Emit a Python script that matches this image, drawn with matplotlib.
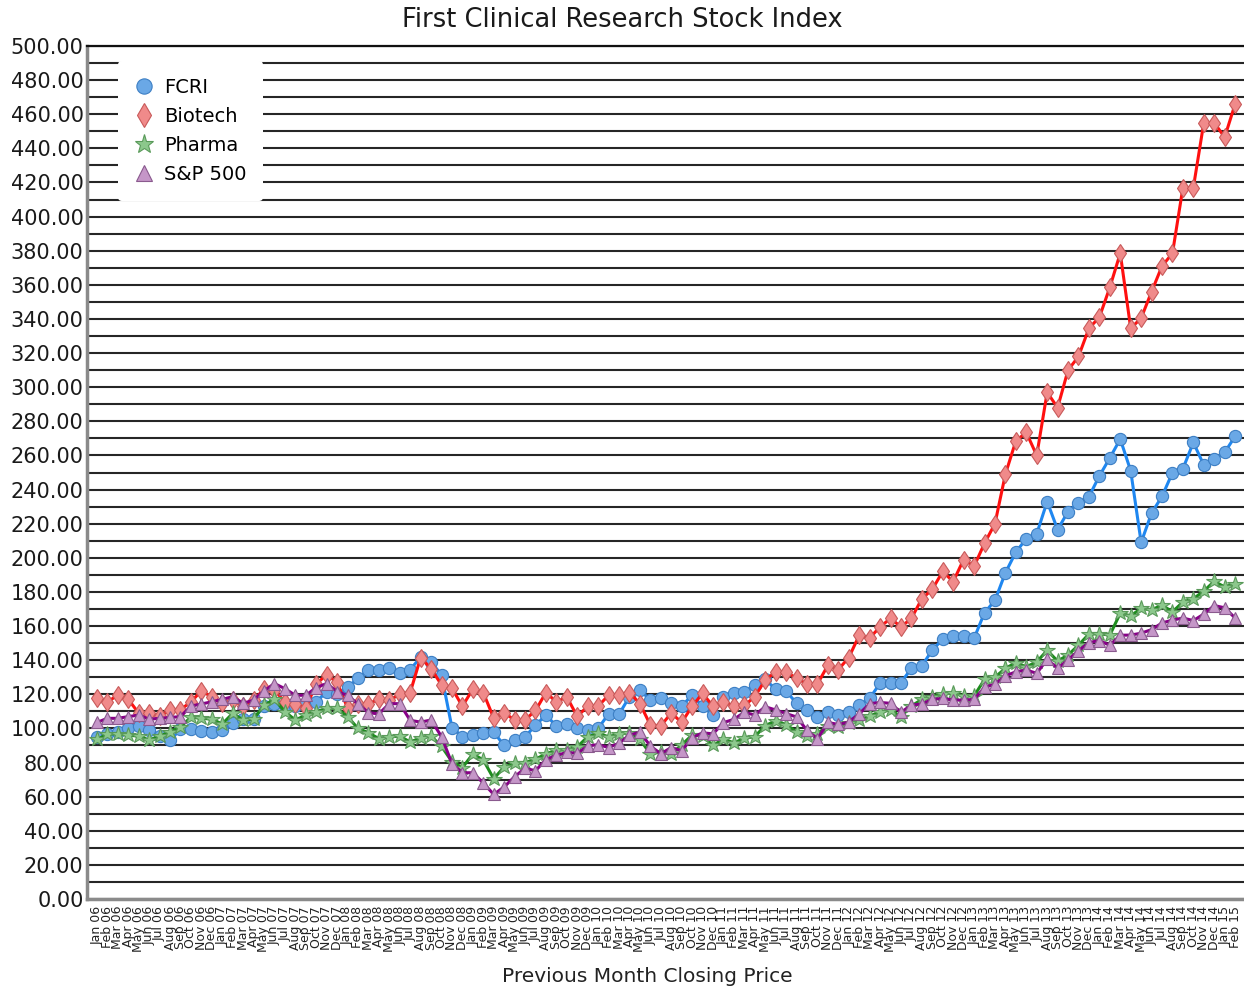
import matplotlib
matplotlib.use("Agg")
import matplotlib.pyplot as plt
import numpy as np

# ---------------- data ----------------
month_names = ["Jan", "Feb", "Mar", "Apr", "May", "Jun",
               "Jul", "Aug", "Sep", "Oct", "Nov", "Dec"]
years = ["06", "07", "08", "09", "10", "11", "12", "13", "14", "15"]
labels = [f"{m} {y}" for y in years for m in month_names][:110]

fcri = [95, 97, 98, 100.5, 101.5, 99, 95.5, 93, 99.5, 99.5, 98.3, 98,
        99.3, 103, 105.5, 105.5, 113, 114.5, 113, 113, 114.7, 115.6, 121.5, 120.2,
        124, 129.4, 134.2, 134, 135.2, 132.3, 134.5, 141.7, 139, 131.3, 100.5, 95.2,
        96.2, 97.2, 97.8, 90, 93, 95, 101.9, 107.8, 101.4, 102.5, 100.3, 99,
        100, 108.5, 108.3, 118.6, 122.5, 116.6, 117.8, 115, 112.9, 119.6, 112.9, 107.8,
        118.6, 121, 121.5, 125.4, 128.7, 122.9, 121.8, 114.8, 110.8, 106.6, 109.8, 107.9,
        109.8, 113.7, 117.6, 126.5, 126.8, 126.8, 135.2, 136.6, 146, 152.2, 154.2, 154.2,
        152.8, 167.8, 175, 191.2, 203.3, 211.2, 214, 233, 216.5, 227.1, 232.3, 235.8,
        248, 258.5, 269.6, 251, 209, 226.2, 236, 249.9, 252.2, 267.6, 254.4, 257.9,
        261.8, 271.2]

biotech = [118, 115.5, 119.5, 117, 109, 109, 107, 111, 111, 115.5, 122, 118.5,
           115, 116.5, 113, 116.5, 123, 122.5, 115.5, 114.5, 112, 126, 131.5, 127,
           112, 114.5, 114.5, 117, 116.5, 120, 121, 141.5, 135, 125.5, 123.5, 113,
           123, 121, 106, 109, 105, 105, 110.5, 121, 115.5, 118.5, 107, 113,
           113, 119.5, 119.5, 121, 114.5, 102, 101.5, 109, 103.5, 113, 120.5, 113,
           115.5, 113, 113.5, 118.5, 128.5, 133, 133, 129.5, 126, 126, 137, 134.5,
           141.5, 154.5, 153, 159.5, 164.5, 159.5, 164.5, 176, 181.5, 192, 186, 199,
           195, 208.5, 220, 249, 268.5, 273.5, 260, 297, 288, 310, 318, 334.5,
           341, 358.5, 378.5, 334.5, 340.5, 356, 371, 378.5, 417, 417, 455, 455,
           446.5, 466]

pharma = [93.5, 96.5, 97, 96, 95.5, 93.2, 95.5, 98, 101, 106.5, 106, 105.4,
          102.6, 108.8, 104.9, 105.4, 113.7, 117, 109.8, 104.9, 107.8, 109.8, 111.8, 111.8,
          106.9, 100, 97.5, 94, 95, 95.5, 92, 94.5, 95.5, 89.5, 80.5, 77,
          85, 81.5, 70.5, 77.4, 79.5, 80, 82, 85, 87.3, 87.3, 89.2, 95.1,
          97.1, 95.1, 96.7, 97.5, 93.6, 85, 86.4, 85, 90.3, 96.1, 95.5, 90,
          93.8, 91.5, 94.2, 95.2, 101.6, 104.5, 102.2, 98, 95.8, 97, 101.4, 100.6,
          103.4, 104.9, 107.2, 109.8, 110.8, 106.9, 113.1, 117, 118.6, 120.2, 120.9, 119,
          119, 128.7, 130, 135.2, 138.5, 136.1, 139, 145.7, 139.5, 143, 148.8, 155.3,
          155.5, 154.7, 167.5, 166, 170.3, 169.5, 172.3, 168.3, 174.1, 176, 180.5, 186.2,
          182.9, 184.9]

sp500 = [103.5, 105.9, 105.9, 106.9, 107.8, 105.4, 105.9, 106.4, 106.9, 113.1, 114.3, 115.6,
         117, 118.6, 114.7, 116.6, 122, 126.3, 123.3, 119.4, 119.4, 123.9, 126.3, 121.5,
         119.4, 114.3, 109.2, 108.5, 114.5, 114.5, 104.7, 103.7, 104.9, 95.2, 79.4, 74,
         74, 68, 61.3, 65.7, 71.7, 76.6, 75.2, 81.7, 84.2, 85.9, 85.4, 89.7,
         90.5, 88.8, 91.3, 96.1, 97.8, 89.7, 85.1, 88.8, 86.9, 94.6, 97.4, 96.8,
         103.4, 105.3, 109.5, 107.8, 112.7, 110.8, 108.7, 106.7, 98.9, 93.9, 103.5, 102.3,
         103.7, 108.5, 114.5, 115.2, 114.7, 109.4, 113.7, 114.3, 117, 117.6, 116.6, 116.6,
         117, 124, 126, 130.7, 133.2, 134.2, 132.3, 140.5, 135.2, 140.1, 145.5, 150.3,
         151.5, 148.7, 154.6, 154.7, 155.8, 157.9, 161.8, 163.5, 164.7, 163.2, 167, 172,
         170.7, 164.7]

series_names = ["FCRI", "Biotech", "Pharma", "S&P 500"]

# ---------------- figure ----------------
W, H = 1244, 989
fig = plt.figure(figsize=(W / 100, H / 100), dpi=100)
ax = fig.add_axes([87 / W, 1 - 899 / H, (1244 - 87) / W, (899 - 46) / H])

x = np.arange(len(labels))

styles = [
    dict(color="#1f87f0", marker="o", ms=8.8, mfc="#6aa8e6", mec="#3d7fc4"),
    dict(color="#ff1010", marker="d", ms=9.5, mfc="#f08a8a", mec="#c85a5a"),
    dict(color="#1e8c1e", marker="*", ms=11.5, mfc="#8cc88c", mec="#5a9a5a"),
    dict(color="#880088", marker="^", ms=9, mfc="#c596c8", mec="#8a5a8e"),
]
data = [fcri, biotech, pharma, sp500]
for k, (vals, st, name) in enumerate(zip(data, styles, series_names)):
    ax.plot(x, vals, color=st["color"], lw=2.2, marker=st["marker"],
            markersize=st["ms"], markerfacecolor=st["mfc"],
            markeredgecolor=st["mec"], markeredgewidth=0.8,
            label=name, zorder=3 + k)

ax.set_xlim(-0.95, 109.85)
ax.set_ylim(0, 500)

# grid lines every 10
yt = np.arange(0, 501, 20)
ax.set_yticks(yt)
ax.set_yticklabels([f"{v:.2f}" for v in yt], fontsize=15, color="#1a1a1a")
ax.set_yticks(np.arange(0, 501, 10), minor=True)
ax.yaxis.grid(True, which="both", color="#262626", lw=1.5, zorder=1)
ax.tick_params(axis="y", which="both", length=0, pad=2.5)

ax.set_xticks(x)
ax.set_xticklabels(labels, rotation=90, fontsize=9, color="#222222")
ax.tick_params(axis="x", length=0, pad=5)

ax.spines["right"].set_visible(False)
ax.spines["top"].set_color("#111111")
ax.spines["top"].set_linewidth(1.6)
ax.spines["left"].set_color("#8a8a8a")
ax.spines["left"].set_linewidth(2.5)
ax.spines["bottom"].set_color("#8a8a8a")
ax.spines["bottom"].set_linewidth(2.5)

leg = ax.legend(loc="upper left", bbox_to_anchor=(0.027, 0.982), frameon=True,
                fontsize=14, handlelength=0.9, handletextpad=0.6,
                labelspacing=0.52, borderpad=0.85, borderaxespad=0,
                markerscale=1.25)
leg.get_frame().set_edgecolor("none")
leg.get_frame().set_facecolor("white")
leg.get_frame().set_alpha(1)
leg.set_zorder(20)
for h in leg.legend_handles:
    h.set_linestyle("none")

fig.text(0.5, 1 - 20 / H, "First Clinical Research Stock Index",
         ha="center", va="center", fontsize=18.5, color="#1a1a1a")
fig.text(647.5 / W, 1 - 976 / H, "Previous Month Closing Price",
         ha="center", va="center", fontsize=14.5, color="#222222")

fig.savefig("out.png", dpi=100)
